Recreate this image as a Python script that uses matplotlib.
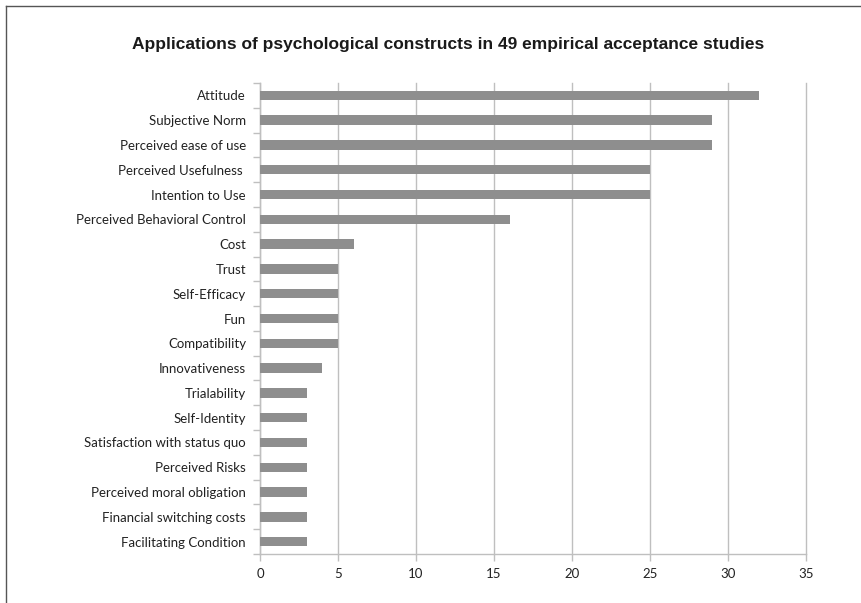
import matplotlib
matplotlib.use("Agg")
import matplotlib.pyplot as plt
from matplotlib.lines import Line2D

constructs = [
    "Attitude", "Subjective Norm", "Perceived ease of use", "Perceived Usefulness ",
    "Intention to Use", "Perceived Behavioral Control", "Cost", "Trust",
    "Self-Efficacy", "Fun", "Compatibility", "Innovativeness", "Trialability",
    "Self-Identity", "Satisfaction with status quo", "Perceived Risks",
    "Perceived moral obligation", "Financial switching costs", "Facilitating Condition",
]
counts = [32, 29, 29, 25, 25, 16, 6, 5, 5, 5, 5, 4, 3, 3, 3, 3, 3, 3, 3]
xticks = [0, 5, 10, 15, 20, 25, 30, 35]

W, H, dpi = 861, 603, 100
fig = plt.figure(figsize=(W / dpi, H / dpi), dpi=dpi)
ax = fig.add_axes([260 / W, 1 - 554 / H, (806 - 260) / W, (554 - 83) / H])

grid_col = "#bfbfbf"
pos = list(range(len(constructs)))
ax.barh(pos, counts, height=0.38, color="#8e8e8e", zorder=3)
ax.set_ylim(len(constructs) - 0.5, -0.5)
ax.set_xlim(0, 35)

ax.set_xticks(xticks)
ax.set_xticklabels([str(t) for t in xticks])
ax.set_yticks(pos)
ax.set_yticklabels(constructs)
# boundary ticks between categories on the y axis
ax.set_yticks([p - 0.5 for p in pos] + [len(pos) - 0.5], minor=True)
ax.tick_params(axis="y", which="major", length=0, pad=10)
ax.tick_params(axis="y", which="minor", length=5, color=grid_col, width=1)
ax.tick_params(axis="x", length=5, color=grid_col, width=1, pad=5)
for lab in ax.get_xticklabels() + ax.get_yticklabels():
    lab.set_fontfamily("Lato")
    lab.set_fontsize(9.5)
    lab.set_color("#222222")

ax.grid(axis="x", color=grid_col, linewidth=1, zorder=0)
for gl in ax.get_xgridlines():
    gl.set_clip_on(False)
for s in ("top", "right"):
    ax.spines[s].set_visible(False)
for s in ("left", "bottom"):
    ax.spines[s].set_color(grid_col)
    ax.spines[s].set_linewidth(1)

fig.text(448 / W, 1 - 45 / H, "Applications of psychological constructs in 49 empirical acceptance studies",
         ha="center", va="center", fontsize=12.5, fontweight="bold",
         family="Liberation Sans", color="#1a1a1a")

# outer chart frame (left and top edges)
fig.add_artist(Line2D([5.5 / W, 5.5 / W], [0, 1 - 5.5 / H], transform=fig.transFigure, color="#555555", lw=1))
fig.add_artist(Line2D([5.5 / W, 1], [1 - 5.5 / H, 1 - 5.5 / H], transform=fig.transFigure, color="#555555", lw=1))

fig.savefig("out.png", dpi=dpi)
